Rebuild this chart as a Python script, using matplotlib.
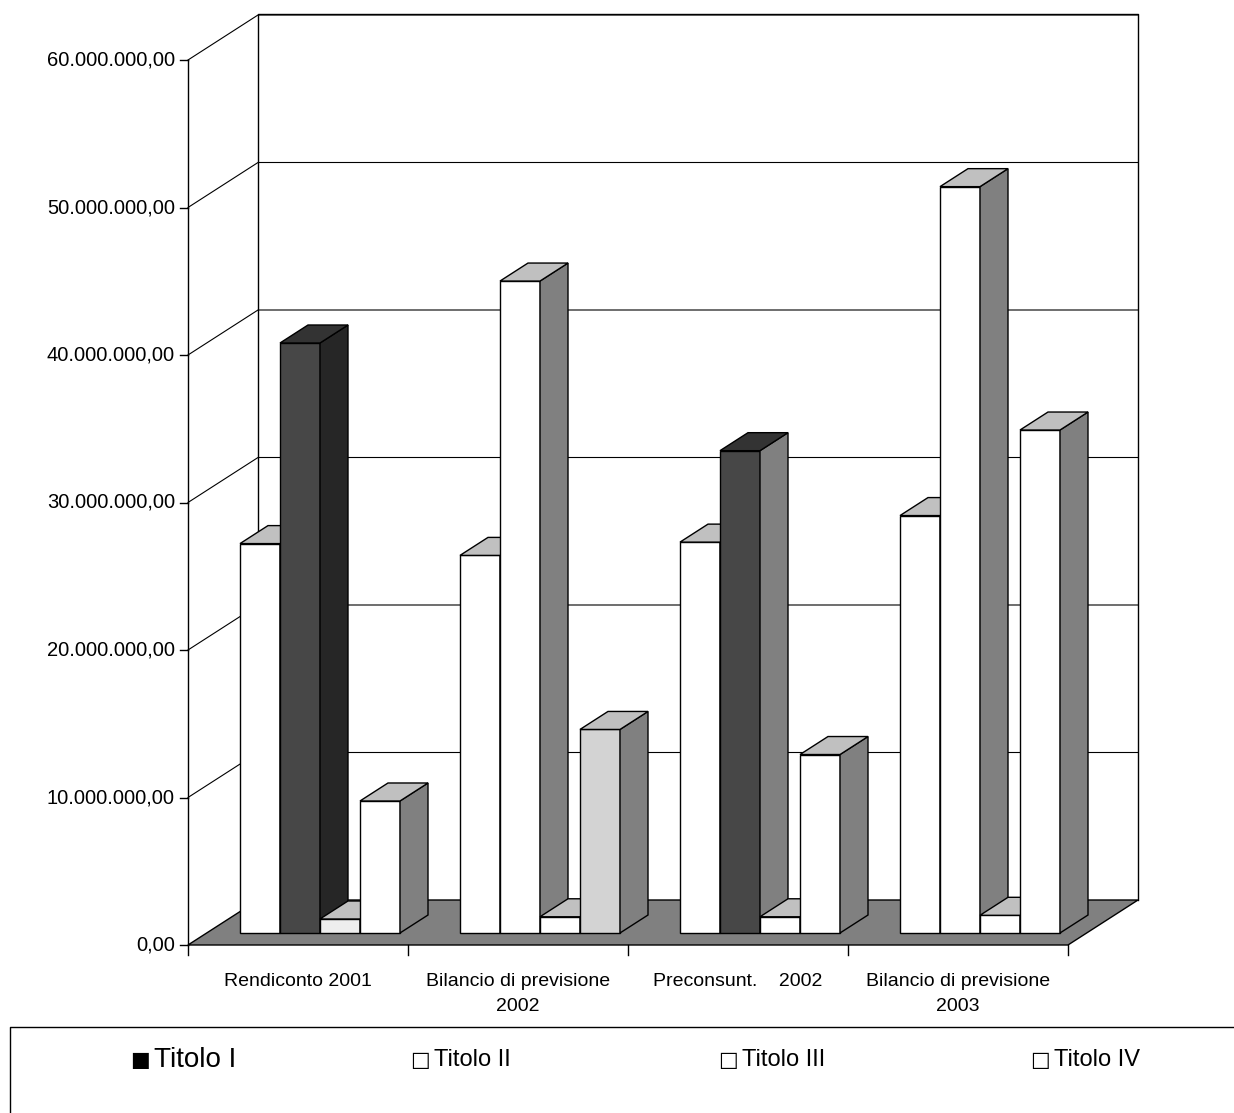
import matplotlib.pyplot as plt
from matplotlib.patches import Polygon

plt.rcParams['font.family'] = ['Liberation Sans', 'DejaVu Sans']

categories = ['Rendiconto 2001', 'Bilancio di previsione\n2002', 'Preconsunt.    2002', 'Bilancio di previsione\n2003']
titolo_1 = [26.4e6, 25.6e6, 26.5e6, 28.3e6]
titolo_2 = [40.0e6, 44.2e6, 32.7e6, 50.6e6]
titolo_3 = [0.95e6, 1.1e6, 1.1e6, 1.2e6]
titolo_4 = [8.95e6, 13.8e6, 12.1e6, 34.1e6]
yticks = [0, 10e6, 20e6, 30e6, 40e6, 50e6, 60e6]
legend_labels = ['Titolo I', 'Titolo II', 'Titolo III', 'Titolo IV']

# face colours per bar (front, side, top), as in the picture
WHITE = ('white', '#808080', '#c0c0c0')
DARK = ('#474747', '#262626', '#333333')
DARK2 = ('#474747', '#808080', '#333333')
PALE = ('#eeeeee', '#808080', '#c0c0c0')
LIGHT = ('#d3d3d3', '#808080', '#c0c0c0')
styles = [
    [WHITE, DARK, PALE, WHITE],
    [WHITE, WHITE, WHITE, LIGHT],
    [WHITE, DARK2, WHITE, WHITE],
    [WHITE, WHITE, WHITE, WHITE],
]

W, H = 1234, 1113
fig = plt.figure(figsize=(W / 100, H / 100), dpi=100)
ax = fig.add_axes([0, 0, 1, 1])
ax.set_xlim(0, W)
ax.set_ylim(H, 0)
ax.axis('off')

PX = 147.5 / 10e6          # pixels per unit value
Y0_FRONT = 945
DX, DY = 70, -45           # wall depth
X0 = 188

def yfront(v):
    return Y0_FRONT - v * PX

# floor
ax.add_patch(Polygon([(X0, 945), (X0 + DX, 945 + DY), (1138, 900), (1068, 945)],
                     closed=True, fc='#808080', ec='black', lw=1, zorder=1))
# back wall outline and gridlines
ax.plot([258, 258, 1138, 1138], [900, 14, 14, 900], color='black', lw=1, zorder=0)
for v in yticks[1:]:
    yf = yfront(v)
    ax.plot([X0, X0 + DX, 1138], [yf, yf + DY, yf + DY], color='black', lw=0.8, zorder=0)
# front axis
ax.plot([X0, X0], [yfront(60e6), 945], color='black', lw=1)
for v in yticks:
    yf = yfront(v)
    ax.plot([X0 - 8, X0], [yf, yf], color='black', lw=1)
    lab = f'{v:,.2f}'.replace(',', 'X').replace('.', ',').replace('X', '.')
    ax.text(X0 - 13, yf, lab, ha='right', va='center', fontsize=14.5)
for i in range(5):
    ax.plot([X0 + 220 * i] * 2, [945, 955], color='black', lw=1)
for i, c in enumerate(categories):
    ax.text(X0 + 110 + 220 * i, 973, c, ha='center', va='top', fontsize=14, linespacing=1.6)

# bars
BW, BDX, BDY, BASE = 40, 28, -18, 933
series = [titolo_1, titolo_2, titolo_3, titolo_4]
for g in range(4):
    for s in range(4):
        front, side, top = styles[g][s]
        x = 240 + 220 * g + BW * s
        yt = BASE - series[s][g] * PX
        z = 3 + s
        ax.add_patch(Polygon([(x, BASE), (x, yt), (x + BW, yt), (x + BW, BASE)],
                             fc=front, ec='black', lw=1, zorder=z))
        ax.add_patch(Polygon([(x + BW, BASE), (x + BW, yt), (x + BW + BDX, yt + BDY),
                              (x + BW + BDX, BASE + BDY)], fc=side, ec='black', lw=1, zorder=z))
        ax.add_patch(Polygon([(x, yt), (x + BDX, yt + BDY), (x + BW + BDX, yt + BDY),
                              (x + BW, yt)], fc=top, ec='black', lw=1, zorder=z))

# legend box
ax.plot([1234, 10, 10], [1027, 1027, 1113], color='black', lw=1)
leg_x = [130, 410, 718, 1030]
for i, lab in enumerate(legend_labels):
    mark = '■' if i == 0 else '□'
    size = 20 if i == 0 else 17
    ax.text(leg_x[i], 1060, mark, ha='left', va='center', fontsize=15,
            family=['DejaVu Sans'])
    ax.text(leg_x[i] + 24, 1060, lab, ha='left', va='center', fontsize=size)

fig.savefig('out.png', dpi=100)
